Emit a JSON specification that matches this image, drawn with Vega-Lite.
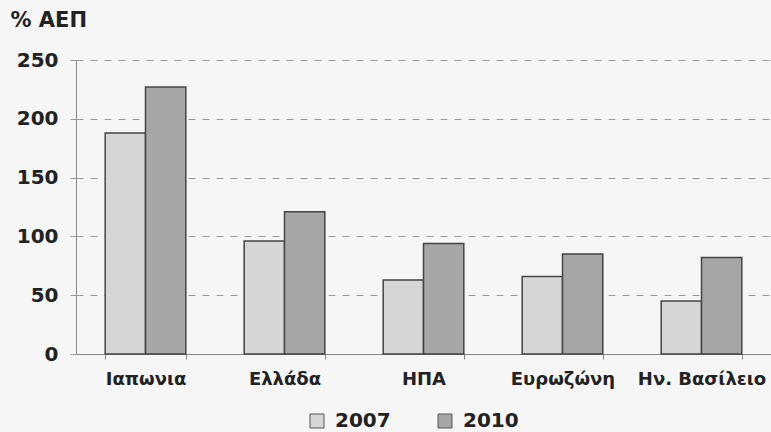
{
  "$schema": "https://vega.github.io/schema/vega-lite/v6.json",
  "width": 695,
  "height": 294,
  "autosize": "none",
  "padding": {"left": 76, "top": 60, "right": 0, "bottom": 78},
  "background": "#f6f6f6",
  "data": {
    "values": [
      {"country": "Ιαπωνια", "year": "2007", "value": 188},
      {"country": "Ιαπωνια", "year": "2010", "value": 227},
      {"country": "Ελλάδα", "year": "2007", "value": 96},
      {"country": "Ελλάδα", "year": "2010", "value": 121},
      {"country": "ΗΠΑ", "year": "2007", "value": 63},
      {"country": "ΗΠΑ", "year": "2010", "value": 94},
      {"country": "Ευρωζώνη", "year": "2007", "value": 66},
      {"country": "Ευρωζώνη", "year": "2010", "value": 85},
      {"country": "Ην. Βασίλειο", "year": "2007", "value": 45},
      {"country": "Ην. Βασίλειο", "year": "2010", "value": 82}
    ]
  },
  "mark": {"type": "bar", "stroke": "#444444", "strokeWidth": 1.5},
  "encoding": {
    "x": {
      "field": "country",
      "type": "nominal",
      "sort": ["Ιαπωνια", "Ελλάδα", "ΗΠΑ", "Ευρωζώνη", "Ην. Βασίλειο"],
      "scale": {"paddingInner": 0.42, "paddingOuter": 0.21},
      "axis": {
        "title": null,
        "labelAngle": 0,
        "labelFont": "DejaVu Sans",
        "labelFontSize": 18,
        "labelFontWeight": "bold",
        "labelColor": "#222222",
        "labelPadding": 11,
        "tickBand": "extent",
        "tickSize": 5,
        "tickColor": "#888888",
        "domainColor": "#888888",
        "grid": false
      }
    },
    "xOffset": {"field": "year", "type": "nominal"},
    "y": {
      "field": "value",
      "type": "quantitative",
      "scale": {"domain": [0, 250]},
      "axis": {
        "title": "% ΑΕΠ",
        "titleAngle": 0,
        "titleAlign": "left",
        "titleBaseline": "middle",
        "titleX": -66,
        "titleY": -40,
        "titleFont": "DejaVu Sans",
        "titleFontSize": 21,
        "titleFontWeight": "bold",
        "titleColor": "#222222",
        "values": [0, 50, 100, 150, 200, 250],
        "labelFont": "DejaVu Sans",
        "labelFontSize": 20,
        "labelFontWeight": "bold",
        "labelColor": "#222222",
        "labelPadding": 12,
        "tickSize": 6,
        "tickColor": "#999999",
        "domainColor": "#888888",
        "grid": true,
        "gridDash": [7, 7],
        "gridColor": "#999999",
        "gridWidth": 1
      }
    },
    "fill": {
      "field": "year",
      "type": "nominal",
      "scale": {"domain": ["2007", "2010"], "range": ["#d6d6d6", "#a6a6a6"]},
      "legend": {
        "title": null,
        "orient": "none",
        "direction": "horizontal",
        "legendX": 231,
        "legendY": 351,
        "padding": 0,
        "symbolType": "square",
        "symbolSize": 196,
        "symbolStrokeColor": "#555555",
        "symbolStrokeWidth": 1,
        "labelFont": "DejaVu Sans",
        "labelFontSize": 20,
        "labelFontWeight": "bold",
        "labelColor": "#222222",
        "labelOffset": 8,
        "columnPadding": 44
      }
    }
  },
  "config": {"view": {"stroke": null}}
}
